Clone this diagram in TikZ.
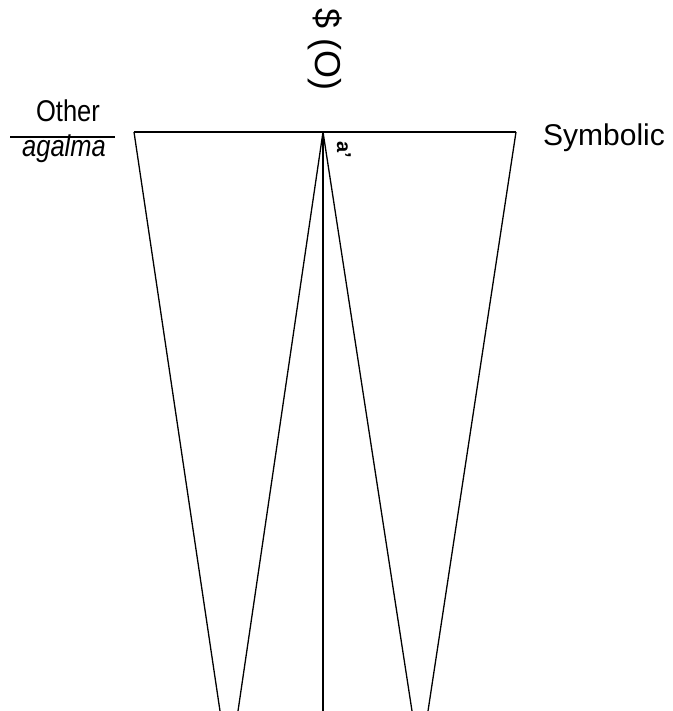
\documentclass[tikz,border=0pt]{standalone}
\usepackage{fontspec}
\setmainfont{Liberation Sans}
\newfontfamily\condfont[FakeStretch=0.85]{Liberation Sans}
\begin{document}
\begin{tikzpicture}[x=1pt,y=-1pt,
  lbl/.style={inner sep=0pt, font=\condfont\fontsize{30}{32}\selectfont},
  ln/.style={line width=1.3pt, black}]
\useasboundingbox (0,0) rectangle (672,711);
% coordinates
\coordinate (TL) at (134,132);
\coordinate (TR) at (516,132);
\coordinate (A) at (323,132);
\coordinate (BL1) at (220,711);
\coordinate (BL2) at (238,711);
\coordinate (BM) at (323,711);
\coordinate (BR2) at (412,711);
\coordinate (BR1) at (428,711);
\coordinate (FL) at (10,137);
\coordinate (FR) at (115,137);
% lines
\draw[ln] (TL) -- (TR);
\draw[ln] (TL) -- (BL1);
\draw[ln] (A) -- (BL2);
\draw[ln] (A) -- (BM);
\draw[ln] (A) -- (BR2);
\draw[ln] (TR) -- (BR1);
\draw[ln] (FL) -- (FR);
% labels
\node[lbl, anchor=base] (other) at (68,122) {Other};
\node[lbl, anchor=base, font=\condfont\itshape\fontsize{30}{32}\selectfont] (agalma) at (64,157) {agalma};
\node[lbl, anchor=base, font=\fontsize{30}{32}\selectfont] (symb) at (604,146) {Symbolic};
\node[lbl, rotate=-90, font=\fontsize{36}{38}\selectfont] (so) at (325,50) {\$ (O)};
\node[inner sep=0pt, rotate=-90, font=\bfseries\fontsize{20}{22}\selectfont] (ap) at (344,150) {a'};
\end{tikzpicture}
\end{document}
